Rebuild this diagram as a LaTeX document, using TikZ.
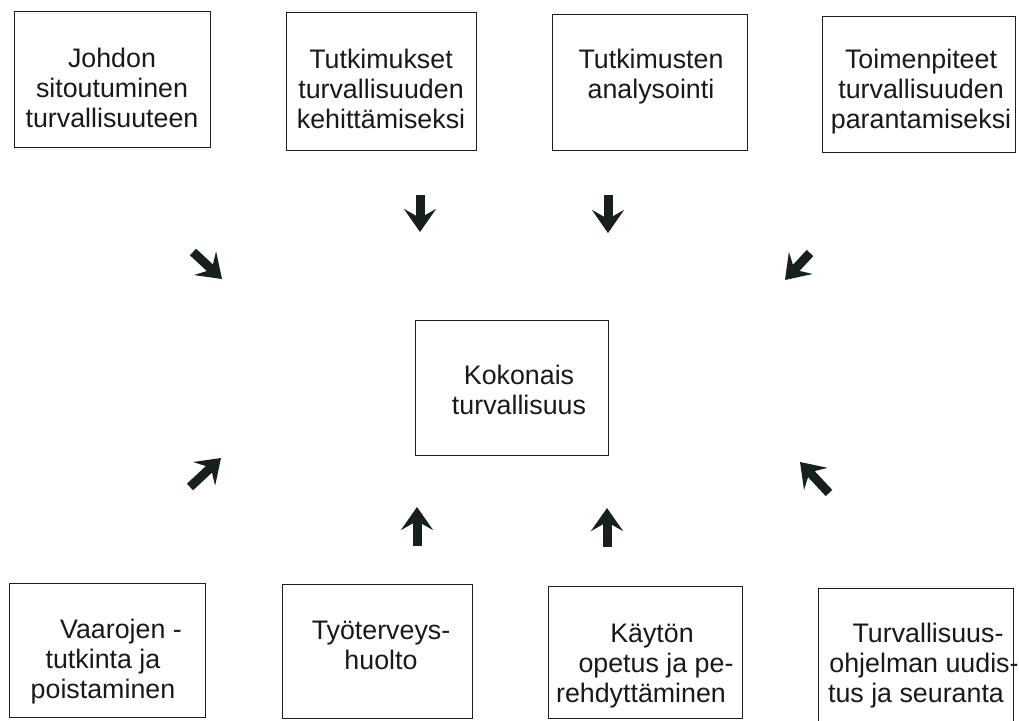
\documentclass[tikz,border=0pt]{standalone}
\usepackage{fontspec}
\setmainfont{Liberation Sans}
\usetikzlibrary{arrows.meta}
\definecolor{arrowcol}{RGB}{22,32,28}
\definecolor{boxcol}{RGB}{30,30,30}
\tikzset{
  box/.style={draw=boxcol, line width=1.4pt, rectangle, inner sep=0pt, anchor=north west},
  txt/.style={align=center, inner sep=0pt, font=\fontsize{26.8}{30}\selectfont, text=black!90},
  bigarrow/.style={draw=arrowcol, line width=9pt, line cap=butt,
    -{Stealth[length=23pt, width=32pt, inset=9pt, fill=arrowcol]}},
}
\begin{document}
\begin{tikzpicture}[x=1pt, y=-1pt]
\useasboundingbox (0,0) rectangle (1019,720);
% top row boxes
\node[box, minimum width=196pt, minimum height=136pt] (b1) at (14,11) {};
\node[box, minimum width=190pt, minimum height=138pt] (b2) at (286,12) {};
\node[box, minimum width=195pt, minimum height=136pt] (b3) at (552,14) {};
\node[box, minimum width=193pt, minimum height=136pt] (b4) at (822,16) {};
% centre box
\node[box, minimum width=193pt, minimum height=135pt] (c) at (415,320) {};
% bottom row boxes
\node[box, minimum width=196pt, minimum height=134pt] (b5) at (9,583) {};
\node[box, minimum width=190pt, minimum height=134pt] (b6) at (282,584) {};
\node[box, minimum width=194pt, minimum height=132pt] (b7) at (548,586) {};
\node[box, minimum width=195pt, minimum height=140pt] (b8) at (818,588) {};
% texts
\node[txt] (t1) at (112,88) {Johdon\\sitoutuminen\\turvallisuuteen};
\node[txt] (t2) at (381,89) {Tutkimukset\\turvallisuuden\\kehittämiseksi};
\node[txt] (t3) at (651,77) {Tutkimusten\\analysointi};
\node[txt] (t4) at (921,92) {Toimenpiteet\\turvallisuuden\\parantamiseksi};
\node[txt] (tc) at (519,390) {Kokonais\\turvallisuus};
\node[txt] (t5) at (103,662) {\hspace*{36pt}Vaarojen -\\tutkinta ja\\poistaminen};
\node[txt] (t6) at (381,645) {Työterveys-\\huolto};
\node[txt] (t7) at (641,666) {\hspace*{22pt}Käytön\\\hspace*{30pt}opetus ja pe-\\rehdyttäminen};
\node[txt] (t8) at (916,666) {\hspace*{24pt}Turvallisuus-\\\hspace*{16pt}ohjelman uudis-\\tus ja seuranta};
% arrow end points
\coordinate (se1) at (193,252); \coordinate (se2) at (222,279);
\coordinate (d1a) at (420,195); \coordinate (d1b) at (420,232);
\coordinate (d2a) at (608,195); \coordinate (d2b) at (608,233);
\coordinate (sw1) at (810,253); \coordinate (sw2) at (785,280);
\coordinate (ne1) at (190,487); \coordinate (ne2) at (221,458);
\coordinate (nw1) at (829,493); \coordinate (nw2) at (800,462);
\coordinate (u1a) at (417,546); \coordinate (u1b) at (417,507);
\coordinate (u2a) at (607,547); \coordinate (u2b) at (607,508);
\draw[bigarrow] (se1) -- (se2);
\draw[bigarrow] (d1a) -- (d1b);
\draw[bigarrow] (d2a) -- (d2b);
\draw[bigarrow] (sw1) -- (sw2);
\draw[bigarrow] (ne1) -- (ne2);
\draw[bigarrow] (nw1) -- (nw2);
\draw[bigarrow] (u1a) -- (u1b);
\draw[bigarrow] (u2a) -- (u2b);
\end{tikzpicture}
\end{document}
